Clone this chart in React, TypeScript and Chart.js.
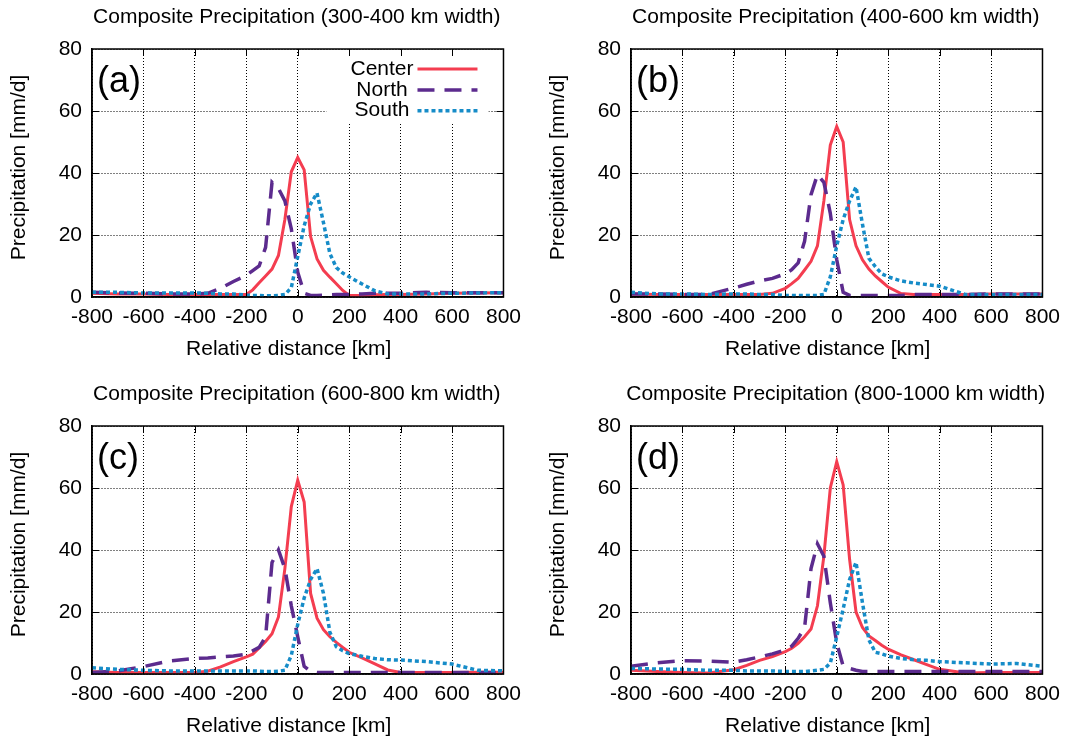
import React, { useEffect, useRef } from "react";
import { Chart, registerables } from "chart.js";

Chart.register(...registerables);

// Relative distance (km) at which the composite values were read
const distanceKm = [
  -800, -700, -600, -500, -400, -350, -300, -250, -200, -175, -150, -125, -100, -75, -50, -25,
  0, 25, 50, 75, 100, 125, 150, 175, 200, 250, 300, 350, 400, 500, 600, 700, 800,
];

const seriesNames = ["Center", "North", "South"];

const panelTitles = [
  "Composite Precipitation (300-400 km width)",
  "Composite Precipitation (400-600 km width)",
  "Composite Precipitation (600-800 km width)",
  "Composite Precipitation (800-1000 km width)",
];
const panelLabels = ["(a)", "(b)", "(c)", "(d)"];
const xAxisTitle = "Relative distance [km]";
const yAxisTitle = "Precipitation [mm/d]";

// (a) 300-400 km
const aCenter = [1.2, 1.0, 1.0, 0.8, 0.8, 0.8, 0.8, 0.8, 0.8, 2.3, 4.6, 6.8, 9.0, 13.4, 25, 40.4, 45, 41, 19.5, 12.3, 8.6, 6.4, 4.3, 2.1, 0.5, 0.5, 0.7, 0.8, 0.8, 1.0, 1.2, 1.3, 1.4];
const aNorth = [1.5, 1.3, 1.2, 1.0, 1.0, 1.2, 2.8, 5, 7, 8.5, 10, 16, 37, 35, 31, 22, 8, 1.2, 0.5, 0.5, 0.6, 0.7, 0.8, 0.8, 0.8, 1.0, 1.2, 1.2, 1.2, 1.5, 1.4, 1.4, 1.4];
const aSouth = [1.5, 1.5, 1.3, 1.3, 1.3, 1.2, 1.0, 1.0, 0.6, 0.5, 0.5, 0.4, 0.4, 0.5, 0.8, 3, 13, 23, 30, 33.5, 24, 14, 9.5, 7.7, 6.5, 4.2, 2, 1, 1, 1, 1.2, 1.3, 1.4];

// (b) 400-600 km
const bCenter = [1.0, 0.8, 0.8, 0.8, 0.8, 0.8, 0.8, 1.2, 2.8, 4.3, 6, 8.7, 11.5, 16.5, 31, 49, 55, 50, 25, 16.5, 12, 9, 6.8, 5, 3.2, 1.1, 0.8, 0.8, 0.8, 0.8, 1, 1, 1];
const bNorth = [1.0, 1.0, 0.8, 0.8, 2.9, 4.1, 5.2, 6, 7.5, 8.8, 11, 18, 33, 39.5, 37, 27, 12, 1.5, 0.5, 0.5, 0.5, 0.5, 0.5, 0.5, 0.5, 0.5, 0.8, 0.8, 0.8, 0.8, 1, 1, 1];
const bSouth = [1.5, 1, 1, 0.8, 1, 1, 0.8, 0.8, 0.5, 0.5, 0.5, 0.5, 0.5, 0.5, 0.8, 6.5, 16.5, 25, 31, 35.5, 23.5, 12.5, 9.8, 7.5, 6.5, 5.2, 4.5, 4, 3.5, 0.8, 0.8, 0.8, 0.8];

// (c) 600-800 km
const cCenter = [0.7, 0.5, 0.5, 0.5, 0.5, 0.9, 2.3, 4, 5.5, 6.4, 8.4, 10.5, 13, 18.4, 34, 54, 62.5, 55.5, 26, 18, 14.3, 12, 10.2, 8.6, 7, 5.2, 3.3, 1.3, 0.5, 0.5, 0.5, 0.6, 0.6];
const cNorth = [0.5, 1, 2.4, 4.2, 5.0, 5.2, 5.5, 5.8, 6.4, 7.5, 8.6, 12, 36, 40, 34, 22, 12, 2.5, 0.8, 0.5, 0.5, 0.5, 0.5, 0.5, 0.5, 0.5, 0.5, 0.5, 0.5, 0.5, 0.5, 0.5, 0.5];
const cSouth = [2, 1.5, 1.2, 1, 1, 1, 1, 1, 1, 1, 0.9, 0.8, 0.8, 0.9, 1.2, 6, 16, 24.5, 30.5, 34, 26, 13.5, 8.8, 7.5, 6.6, 5.7, 5, 4.6, 4.5, 4, 3.2, 1.2, 1];

// (d) 800-1000 km
const dCenter = [1.2, 0.8, 0.5, 0.3, 1.4, 2.8, 4.4, 5.6, 7.2, 8.3, 9.9, 12, 14.5, 22, 38, 60, 68.5, 61, 37, 20, 15, 12.3, 10.8, 9.3, 8, 6.2, 4.6, 3, 1.5, 0.3, 0.5, 0.5, 0.5];
const dNorth = [2.5, 3.6, 4.3, 4.2, 3.8, 4.6, 5.5, 6.5, 7.8, 9, 11.5, 15, 34, 42, 38, 23, 10, 2.5, 1.8, 1.2, 0.8, 0.8, 0.8, 0.8, 0.8, 0.8, 0.8, 0.8, 0.8, 0.8, 0.8, 0.8, 0.8];
const dSouth = [1.8, 1.6, 1.5, 1.2, 1.2, 1, 1, 1, 0.8, 0.8, 0.8, 0.8, 1, 1.2, 1.5, 3.5, 12, 21, 30.5, 36, 23, 11, 7, 6.5, 5.8, 5, 4.6, 4.4, 4, 3.6, 3.2, 3.4, 2.5];

const FONT = '"Liberation Sans", Arial, Helvetica, sans-serif';
const TEXT_SIZE = 21;
const RED = "#f43d50";
const PURPLE = "#5c2b8e";
const BLUE = "#168cc8";

const toPoints = (ys: number[]) => distanceKm.map((x, i) => ({ x, y: ys[i] }));

const decorPlugin = {
  id: "panelDecor",
  beforeDatasetsDraw(chart: any, _args: any, opts: any) {
    if (!opts.legend) return;
    const { ctx, chartArea: a } = chart;
    ctx.save();
    ctx.fillStyle = "#fff";
    ctx.fillRect(a.right - 177, a.top + 1, 162, 73);
    ctx.restore();
  },
  afterDatasetsDraw(chart: any, _args: any, opts: any) {
    const { ctx, chartArea: a } = chart;
    const xs = chart.scales.x;
    const ys = chart.scales.y;
    ctx.save();
    // inward tick marks on all four sides
    ctx.strokeStyle = "#000";
    ctx.lineWidth = 1;
    ctx.setLineDash([]);
    ctx.beginPath();
    xs.ticks.forEach((t: any) => {
      if (t.value <= xs.min || t.value >= xs.max) return;
      const px = Math.round(xs.getPixelForValue(t.value)) + 0.5;
      ctx.moveTo(px, a.bottom);
      ctx.lineTo(px, a.bottom - 7);
      ctx.moveTo(px, a.top);
      ctx.lineTo(px, a.top + 7);
    });
    ys.ticks.forEach((t: any) => {
      if (t.value <= ys.min || t.value >= ys.max) return;
      const py = Math.round(ys.getPixelForValue(t.value)) + 0.5;
      ctx.moveTo(a.left, py);
      ctx.lineTo(a.left + 7, py);
      ctx.moveTo(a.right, py);
      ctx.lineTo(a.right - 7, py);
    });
    ctx.stroke();
    // frame
    ctx.lineWidth = 1.5;
    ctx.strokeRect(a.left, a.top, a.right - a.left, a.bottom - a.top);

    ctx.fillStyle = "#000";
    // legend
    if (opts.legend) {
      const rows = [20, 41, 61.7];
      chart.data.datasets.forEach((ds: any, i: number) => {
        const y = a.top + rows[i];
        ctx.font = `${TEXT_SIZE}px ${FONT}`;
        ctx.textAlign = "center";
        ctx.textBaseline = "middle";
        ctx.fillText(ds.label, a.right - 121.5, y);
        ctx.save();
        ctx.strokeStyle = ds.borderColor;
        ctx.lineWidth = ds.borderWidth;
        ctx.setLineDash(ds.borderDash || []);
        ctx.beginPath();
        ctx.moveTo(a.right - 86, y);
        ctx.lineTo(a.right - 26, y);
        ctx.stroke();
        ctx.restore();
      });
    }
    // panel title
    ctx.font = `${TEXT_SIZE}px ${FONT}`;
    ctx.textAlign = "center";
    ctx.textBaseline = "alphabetic";
    ctx.fillText(opts.title, (a.left + a.right) / 2 - 1, a.top - 26);
    // x-axis title
    ctx.textBaseline = "middle";
    ctx.fillText(xAxisTitle, (a.left + a.right) / 2 - 9, a.bottom + 52);
    // y-axis title
    ctx.save();
    ctx.translate(19.5, a.top + 118.5);
    ctx.rotate(-Math.PI / 2);
    ctx.fillText(yAxisTitle, 0, 0);
    ctx.restore();
    // panel label
    ctx.font = `36px ${FONT}`;
    ctx.textAlign = "left";
    ctx.fillText(opts.label, a.left + 5, a.top + 33);
    ctx.restore();
  },
};

type PanelProps = {
  left: number;
  top: number;
  index: number;
  center: number[];
  north: number[];
  south: number[];
  legend: boolean;
};

function Panel({ left, top, index, center, north, south, legend }: PanelProps) {
  const ref = useRef<HTMLCanvasElement>(null);
  useEffect(() => {
    const tickFont = { family: FONT, size: TEXT_SIZE };
    const chart = new Chart(ref.current as HTMLCanvasElement, {
      type: "line",
      data: {
        datasets: [
          {
            label: seriesNames[0],
            data: toPoints(center),
            borderColor: RED,
            borderWidth: 3,
            pointRadius: 0,
            tension: 0,
            order: 2,
          },
          {
            label: seriesNames[1],
            data: toPoints(north),
            borderColor: PURPLE,
            borderWidth: 3.5,
            borderDash: [17, 10],
            pointRadius: 0,
            tension: 0,
            order: 1,
          },
          {
            label: seriesNames[2],
            data: toPoints(south),
            borderColor: BLUE,
            borderWidth: 3.5,
            borderDash: [4, 3],
            pointRadius: 0,
            tension: 0,
            order: 0,
          },
        ],
      },
      options: {
        responsive: false,
        animation: false,
        devicePixelRatio: 1,
        layout: { padding: { top: 49, right: 25, bottom: 0, left: 0 } },
        plugins: {
          legend: { display: false },
          tooltip: { enabled: false },
          // @ts-ignore
          panelDecor: { title: panelTitles[index], label: panelLabels[index], legend },
        },
        scales: {
          x: {
            type: "linear",
            min: -800,
            max: 800,
            ticks: {
              stepSize: 200,
              autoSkip: false,
              maxRotation: 0,
              padding: 8,
              color: "#000",
              font: tickFont,
            },
            grid: { drawTicks: false, color: "#000", lineWidth: 1 },
            border: { display: true, color: "#000", width: 1.5, dash: [1, 2] },
            afterFit: (s: any) => {
              s.height = 71;
            },
          },
          y: {
            type: "linear",
            min: 0,
            max: 80,
            ticks: { stepSize: 20, padding: 10, color: "#000", font: tickFont },
            grid: { drawTicks: false, color: "#000", lineWidth: 1 },
            border: { display: true, color: "#000", width: 1.5, dash: [1, 2] },
            afterFit: (s: any) => {
              s.width = 92;
            },
          },
        },
      } as any,
      plugins: [decorPlugin],
    });
    return () => chart.destroy();
  }, []);
  return (
    <canvas
      ref={ref}
      width={529}
      height={368}
      style={{ position: "absolute", left, top, width: 529, height: 368 }}
    />
  );
}

export default function App() {
  return (
    <div
      style={{
        position: "fixed",
        left: 0,
        top: 0,
        width: 1068,
        height: 737,
        overflow: "hidden",
        background: "#fff",
      }}
    >
      <Panel left={0} top={0} index={0} center={aCenter} north={aNorth} south={aSouth} legend={true} />
      <Panel left={539} top={0} index={1} center={bCenter} north={bNorth} south={bSouth} legend={false} />
      <Panel left={0} top={377} index={2} center={cCenter} north={cNorth} south={cSouth} legend={false} />
      <Panel left={539} top={377} index={3} center={dCenter} north={dNorth} south={dSouth} legend={false} />
    </div>
  );
}
